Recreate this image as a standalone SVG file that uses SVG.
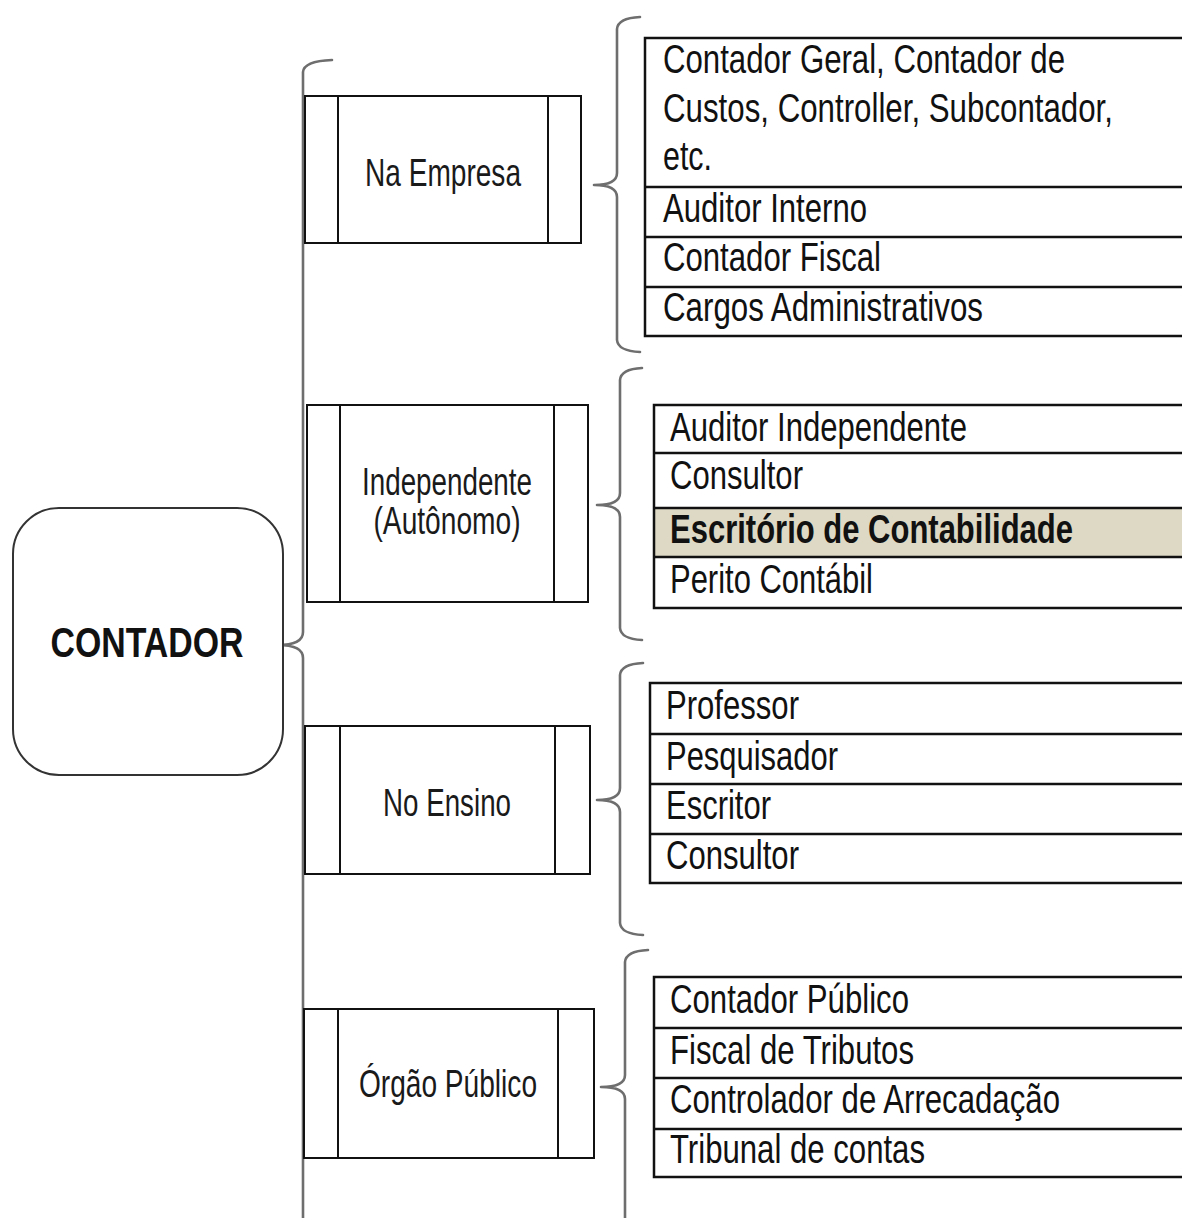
<svg xmlns="http://www.w3.org/2000/svg" width="1182" height="1218" viewBox="0 0 1182 1218">
  <style>
    .brace { fill: none; stroke: #6e6e6e; stroke-width: 2.6; stroke-linejoin: round; stroke-linecap: round; }
    .box { fill: #ffffff; stroke: #111111; stroke-width: 2; }
    .bar { stroke: #111111; stroke-width: 2; }
    .tbl { fill: none; stroke: #111111; stroke-width: 2.5; }
    .row { stroke: #111111; stroke-width: 2.5; }
    .hl { fill: #DDD9C4; }
    .cat { font-family: "Liberation Sans", Arial, sans-serif; font-size: 39px; fill: #1a1a1a; text-anchor: middle; }
    .item { font-family: "Liberation Sans", Arial, sans-serif; font-size: 30px; fill: #111111; }
    .bold { font-weight: bold; }
    .root { font-family: "Liberation Sans", Arial, sans-serif; font-size: 43px; font-weight: bold; fill: #111111; text-anchor: middle; }
  </style>

  <rect width="1182" height="1218" fill="#ffffff"/>

  <!-- braces linking the levels -->
  <g id="connectors">
    <!-- main brace from CONTADOR -->
    <path class="brace" d="M332,60 Q304,61 303,72 L303,632 Q303,645 278,645 Q303,645 303,658 L303,1225"/>
    <!-- Na Empresa brace -->
    <path class="brace" d="M640,17 Q618,18 617,29 L617,173 Q617,185 594,185 Q617,185 617,197 L617,340 Q618,351 640,352"/>
    <!-- Independente brace -->
    <path class="brace" d="M642,368 Q621,369 620,380 L620,493 Q620,505 597,505 Q620,505 620,517 L620,628 Q621,639 642,640"/>
    <!-- No Ensino brace -->
    <path class="brace" d="M643,663 Q621,664 620,675 L620,788 Q620,800 597,800 Q620,800 620,812 L620,923 Q621,934 643,935"/>
    <!-- Orgao Publico brace -->
    <path class="brace" d="M648,950 Q626,951 625,962 L625,1075 Q625,1087 601,1087 Q625,1087 625,1099 L625,1225"/>
  </g>

  <!-- root node -->
  <g id="node-contador">
    <rect x="13" y="508" width="270" height="267" rx="46" ry="46" fill="#ffffff" stroke="#333333" stroke-width="2"/>
    <text class="root" x="147" y="657" textLength="193" lengthAdjust="spacingAndGlyphs">CONTADOR</text>
  </g>

  <!-- category nodes -->
  <g id="node-na-empresa">
    <rect class="box" x="305" y="96" width="276" height="147"/>
    <line class="bar" x1="338" y1="96" x2="338" y2="243"/>
    <line class="bar" x1="548" y1="96" x2="548" y2="243"/>
    <text class="cat" x="443" y="186" textLength="156" lengthAdjust="spacingAndGlyphs">Na Empresa</text>
  </g>

  <g id="node-independente">
    <rect class="box" x="307" y="405" width="281" height="197"/>
    <line class="bar" x1="340" y1="405" x2="340" y2="602"/>
    <line class="bar" x1="554" y1="405" x2="554" y2="602"/>
    <text class="cat" x="447" y="495" textLength="170" lengthAdjust="spacingAndGlyphs">Independente</text>
    <text class="cat" x="447" y="534" textLength="147" lengthAdjust="spacingAndGlyphs">(Autônomo)</text>
  </g>

  <g id="node-no-ensino">
    <rect class="box" x="305" y="726" width="285" height="148"/>
    <line class="bar" x1="340" y1="726" x2="340" y2="874"/>
    <line class="bar" x1="555" y1="726" x2="555" y2="874"/>
    <text class="cat" x="447" y="816" textLength="128" lengthAdjust="spacingAndGlyphs">No Ensino</text>
  </g>

  <g id="node-orgao-publico">
    <rect class="box" x="304" y="1009" width="290" height="149"/>
    <line class="bar" x1="338" y1="1009" x2="338" y2="1158"/>
    <line class="bar" x1="558" y1="1009" x2="558" y2="1158"/>
    <text class="cat" x="448" y="1097" textLength="178" lengthAdjust="spacingAndGlyphs">Órgão Público</text>
  </g>

  <!-- role lists: open on the right, running to the page edge.
       Item text is set at 30px and stretched vertically (41/30) to get tall, narrow letters. -->
  <g id="list-na-empresa">
    <path class="tbl" d="M1182,38 H645 V336 H1182"/>
    <line class="row" x1="645" y1="187" x2="1182" y2="187"/>
    <line class="row" x1="645" y1="237" x2="1182" y2="237"/>
    <line class="row" x1="645" y1="287" x2="1182" y2="287"/>
    <g transform="scale(1,1.36667)">
      <text class="item" x="663" y="53.41" textLength="402" lengthAdjust="spacingAndGlyphs">Contador Geral, Contador de</text>
      <text class="item" x="663" y="89.27" textLength="450" lengthAdjust="spacingAndGlyphs">Custos, Controller, Subcontador,</text>
      <text class="item" x="663" y="124.39" textLength="49" lengthAdjust="spacingAndGlyphs">etc.</text>
      <text class="item" x="663" y="162.44" textLength="204" lengthAdjust="spacingAndGlyphs">Auditor Interno</text>
      <text class="item" x="663" y="198.29" textLength="218" lengthAdjust="spacingAndGlyphs">Contador Fiscal</text>
      <text class="item" x="663" y="234.88" textLength="320" lengthAdjust="spacingAndGlyphs">Cargos Administrativos</text>
    </g>
  </g>

  <g id="list-independente">
    <rect class="hl" x="655" y="508" width="527" height="49"/>
    <path class="tbl" d="M1182,405 H654 V608 H1182"/>
    <line class="row" x1="654" y1="453" x2="1182" y2="453"/>
    <line class="row" x1="654" y1="508" x2="1182" y2="508"/>
    <line class="row" x1="654" y1="557" x2="1182" y2="557"/>
    <g transform="scale(1,1.36667)">
      <text class="item" x="670" y="322.68" textLength="297" lengthAdjust="spacingAndGlyphs">Auditor Independente</text>
      <text class="item" x="670" y="357.80" textLength="133" lengthAdjust="spacingAndGlyphs">Consultor</text>
      <text class="item bold" x="670" y="397.32" textLength="403" lengthAdjust="spacingAndGlyphs">Escritório de Contabilidade</text>
      <text class="item" x="670" y="433.90" textLength="203" lengthAdjust="spacingAndGlyphs">Perito Contábil</text>
    </g>
  </g>

  <g id="list-no-ensino">
    <path class="tbl" d="M1182,683 H650 V883 H1182"/>
    <line class="row" x1="650" y1="734" x2="1182" y2="734"/>
    <line class="row" x1="650" y1="784" x2="1182" y2="784"/>
    <line class="row" x1="650" y1="834" x2="1182" y2="834"/>
    <g transform="scale(1,1.36667)">
      <text class="item" x="666" y="526.10" textLength="133" lengthAdjust="spacingAndGlyphs">Professor</text>
      <text class="item" x="666" y="563.41" textLength="172" lengthAdjust="spacingAndGlyphs">Pesquisador</text>
      <text class="item" x="666" y="599.27" textLength="105" lengthAdjust="spacingAndGlyphs">Escritor</text>
      <text class="item" x="666" y="635.85" textLength="133" lengthAdjust="spacingAndGlyphs">Consultor</text>
    </g>
  </g>

  <g id="list-orgao-publico">
    <path class="tbl" d="M1182,977 H654 V1177 H1182"/>
    <line class="row" x1="654" y1="1028" x2="1182" y2="1028"/>
    <line class="row" x1="654" y1="1078" x2="1182" y2="1078"/>
    <line class="row" x1="654" y1="1129" x2="1182" y2="1129"/>
    <g transform="scale(1,1.36667)">
      <text class="item" x="670" y="741.22" textLength="239" lengthAdjust="spacingAndGlyphs">Contador Público</text>
      <text class="item" x="670" y="778.54" textLength="244" lengthAdjust="spacingAndGlyphs">Fiscal de Tributos</text>
      <text class="item" x="670" y="814.39" textLength="390" lengthAdjust="spacingAndGlyphs">Controlador de Arrecadação</text>
      <text class="item" x="670" y="850.98" textLength="255" lengthAdjust="spacingAndGlyphs">Tribunal de contas</text>
    </g>
  </g>
</svg>
